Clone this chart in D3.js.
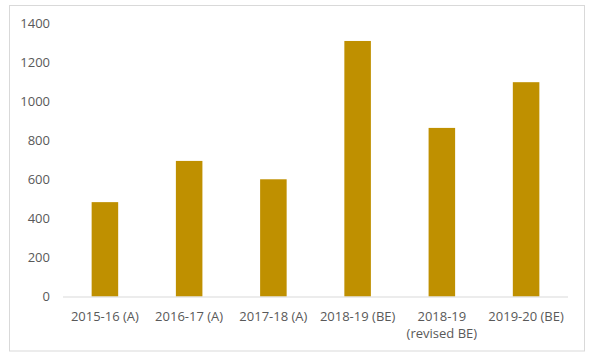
<!DOCTYPE html>
<html>
<head>
<meta charset="utf-8">
<script src="https://cdn.jsdelivr.net/npm/d3@7"></script>
<style>
  body { margin: 0; background: #fff; }
  text { font-family: "Open Sans", "Liberation Sans", sans-serif; fill: #595959; font-size: 13px; }
</style>
</head>
<body>
<div id="chart"></div>
<script>
  // chart data
  var categories = ['2015-16 (A)', '2016-17 (A)', '2017-18 (A)', '2018-19 (BE)', '2018-19|(revised BE)', '2019-20 (BE)'];
  var values = [483, 694, 600, 1308, 863, 1097];
  var yTicks = [0, 200, 400, 600, 800, 1000, 1200, 1400];

  var width = 592, height = 356;
  var plot = { left: 63, right: 568, top: 23, bottom: 296.5 };

  var svg = d3.select('#chart').append('svg')
    .attr('width', width)
    .attr('height', height);

  // outer frame
  svg.append('rect')
    .attr('x', 9.5).attr('y', 5.5)
    .attr('width', 575).attr('height', 345.5)
    .attr('fill', '#fff')
    .attr('stroke', '#d9d9d9');

  var x = d3.scaleBand()
    .domain(categories)
    .range([plot.left, plot.right])
    .paddingInner(0.685)
    .paddingOuter(0.34);

  var y = d3.scaleLinear()
    .domain([0, 1400])
    .range([plot.bottom, plot.top]);

  // y axis labels (no line)
  var yAxis = svg.append('g')
    .attr('transform', 'translate(' + plot.left + ',0)')
    .call(d3.axisLeft(y).tickValues(yTicks).tickFormat(d3.format('d')).tickSize(0).tickPadding(13));
  yAxis.select('.domain').remove();
  yAxis.selectAll('text').attr('fill', '#595959').style('font-size', '13px');

  // bars
  svg.selectAll('rect.bar').data(values).enter().append('rect')
    .attr('class', 'bar')
    .attr('x', function (d, i) { return x(categories[i]); })
    .attr('width', x.bandwidth())
    .attr('y', function (d) { return y(d); })
    .attr('height', function (d) { return y(0) - y(d); })
    .attr('fill', '#bf9000');

  // baseline
  svg.append('line')
    .attr('x1', plot.left).attr('x2', plot.right)
    .attr('y1', y(0) + 0.5).attr('y2', y(0) + 0.5)
    .attr('stroke', '#d9d9d9');

  // x axis labels, split on '|'
  var xl = svg.selectAll('text.xlab').data(categories).enter().append('text')
    .attr('class', 'xlab')
    .attr('text-anchor', 'middle')
    .attr('x', function (d) { return x(d) + x.bandwidth() / 2; })
    .attr('y', 321);
  xl.each(function (d) {
    var parts = d.split('|'), t = d3.select(this);
    parts.forEach(function (p, k) {
      t.append('tspan')
        .attr('x', t.attr('x'))
        .attr('dy', k === 0 ? 0 : 17)
        .text(p);
    });
  });
</script>
</body>
</html>
